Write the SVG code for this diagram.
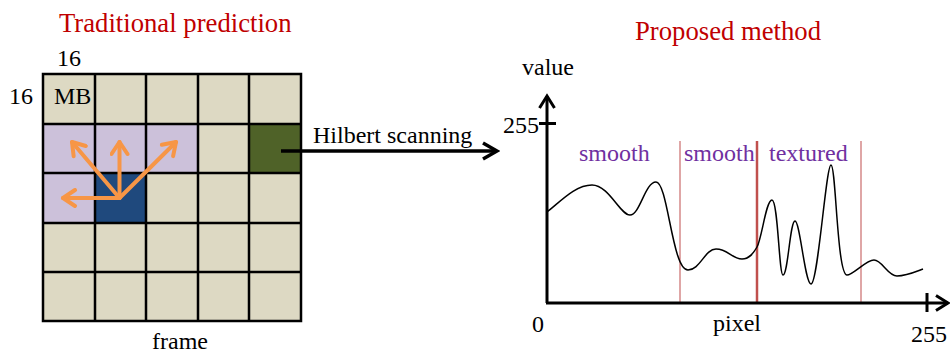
<svg xmlns="http://www.w3.org/2000/svg" width="950" height="353" viewBox="0 0 950 353">
<style>
text{font-family:"Liberation Serif","Times New Roman",serif;font-size:24px;fill:#000}
.title{font-size:26.7px;fill:#C00000}
.lab{fill:#7030A0}
.cb{fill:#DDD9C3}
.cl{fill:#CCC1DA}
.grid{stroke:#000;stroke-width:2.5;fill:none}
.orange{stroke:#F79646;stroke-width:4;fill:none;stroke-linecap:round}
.axis{stroke:#000;stroke-width:3;fill:none}
.sep{stroke:#D58888;stroke-width:1.5}
.sep2{stroke:#C0504D;stroke-width:2.5}
</style>
<defs>
<marker id="oa" viewBox="0 0 18 20" refX="15" refY="10" markerWidth="18" markerHeight="20" markerUnits="userSpaceOnUse" orient="auto">
<path d="M3,2 L15,10 L3,18" fill="none" stroke="#F79646" stroke-width="4" stroke-linecap="round" stroke-linejoin="round"/>
</marker>
<marker id="ba" viewBox="0 0 20 20" refX="17" refY="10" markerWidth="20" markerHeight="20" markerUnits="userSpaceOnUse" orient="auto">
<path d="M3,2 L17,10 L3,18" fill="none" stroke="#000" stroke-width="3.5" stroke-linejoin="miter"/>
</marker>
<marker id="xa" viewBox="0 0 18 18" refX="15" refY="9" markerWidth="18" markerHeight="18" markerUnits="userSpaceOnUse" orient="auto">
<path d="M3,1.5 L15,9 L3,16.5" fill="none" stroke="#000" stroke-width="3"/>
</marker>
</defs>

<text class="title" x="59" y="32">Traditional prediction</text>
<text class="title" x="635" y="40">Proposed method</text>

<g id="frame">
<rect class="cb" x="43" y="74" width="258" height="247"/>
<rect class="cl" x="43" y="124" width="155" height="49"/>
<rect class="cl" x="43" y="173" width="52" height="50"/>
<rect fill="#1F497D" x="95" y="173" width="51" height="50"/>
<rect fill="#4F6228" x="249" y="124" width="52" height="49"/>
<path class="grid" d="M43,74H301V321H43Z M95,74V321 M146,74V321 M198,74V321 M249,74V321 M43,124H301 M43,173H301 M43,223H301 M43,272H301"/>
<text x="57" y="66">16</text>
<text x="9" y="104">16</text>
<text x="54" y="104">MB</text>
<text x="152" y="349">frame</text>
</g>

<g id="prediction-arrows">
<line class="orange" x1="119.5" y1="198" x2="72" y2="142" marker-end="url(#oa)"/>
<line class="orange" x1="119.5" y1="198" x2="119.5" y2="142" marker-end="url(#oa)"/>
<line class="orange" x1="119.5" y1="198" x2="176" y2="142" marker-end="url(#oa)"/>
<line class="orange" x1="119.5" y1="198" x2="63" y2="198" marker-end="url(#oa)"/>
</g>

<g id="connectors">
<line x1="281" y1="151" x2="497" y2="151" stroke="#000" stroke-width="3.5" marker-end="url(#ba)"/>
<text x="313" y="143">Hilbert scanning</text>
</g>

<g id="graph">
<line class="sep" x1="680" y1="141" x2="680" y2="303"/>
<line class="sep2" x1="757" y1="141" x2="757" y2="303"/>
<line class="sep" x1="861" y1="141" x2="861" y2="303"/>
<line class="axis" x1="547" y1="303" x2="547" y2="96" marker-end="url(#xa)"/>
<line class="axis" x1="546" y1="303" x2="948" y2="303" marker-end="url(#xa)"/>
<line class="axis" x1="539" y1="123.5" x2="556" y2="123.5"/>
<line class="axis" x1="927" y1="293" x2="927" y2="312"/>
<path fill="none" stroke="#000" stroke-width="1.5" d="M547,212 C560,202 575,185 592,185 C609,185 620,215 630,215 C640,215 645,182 656,182 C668,182 672,270 688,270 C700,270 705,249 716,249 C728,249 732,259 742,259 C749,259 753,254 757,247 C762,238 766,200 772,200 C778,200 779,275 783,275 C788,275 790,221 795,221 C800,221 805,284 811,284 C818,284 826,165 831,165 C836,165 837,275 847,275 C853,275 866,260 874,260 C882,260 888,276 897,276 C906,276 915,272 923,269"/>
<text x="522" y="75">value</text>
<text x="503" y="133">255</text>
<text x="532" y="332">0</text>
<text x="713" y="331">pixel</text>
<text x="911" y="342">255</text>
<text class="lab" x="579" y="161">smooth</text>
<text class="lab" x="684" y="161">smooth</text>
<text class="lab" x="769" y="161">textured</text>
</g>
</svg>
